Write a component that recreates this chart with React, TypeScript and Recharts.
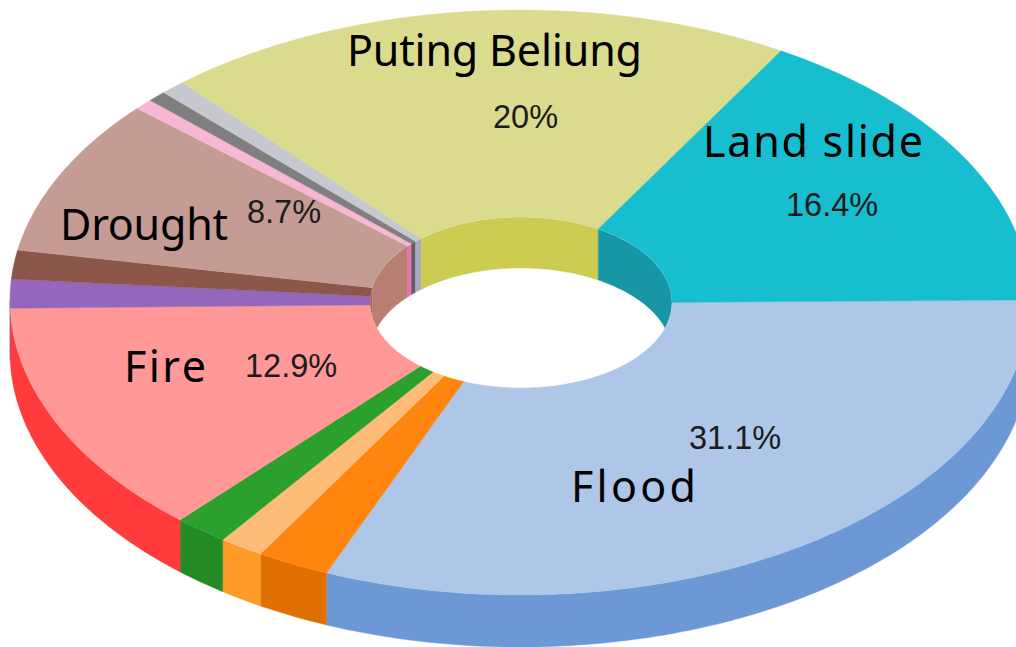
import { PieChart, Pie } from 'recharts';

// slices, clockwise from 3 o'clock
const names = ['Flood', 'Other 1', 'Other 2', 'Other 3', 'Fire', 'Other 4', 'Other 5', 'Drought', 'Other 6', 'Other 7', 'Other 8', 'Puting Beliung', 'Land slide'];
const values = [31.1, 2.3, 1.4, 1.7, 12.9, 1.6, 1.6, 8.7, 0.6, 0.6, 0.8, 20, 16.4];
const topColors = ['#AEC7E8', '#FF860E', '#FFBB78', '#2CA02C', '#FF9896', '#9467BD', '#8C564B', '#C49C94', '#F7B6D2', '#7F7F7F', '#C7C7CF', '#DBDB8D', '#17BECF'];
const wallColors = ['#6C98D6', '#DF7000', '#FF9A26', '#248A24', '#FF3B3B', '#7A4FA6', '#A56A5E', '#B97F72', '#F06FB0', '#5F5F5F', '#A9A9C0', '#CCCB52', '#1796A6'];

// text placed on the big slices
const bigLabels: Record<string, { x: number; y: number; w: number }> = {
  'Flood': { x: 571, y: 502, w: 125 },
  'Fire': { x: 124, y: 382, w: 82 },
  'Drought': { x: 60, y: 240, w: 168 },
  'Puting Beliung': { x: 347, y: 66, w: 295 },
  'Land slide': { x: 703, y: 157, w: 220 },
};
const pctLabels: Record<string, { x: number; y: number; text: string }> = {
  'Flood': { x: 689, y: 449, text: '31.1%' },
  'Fire': { x: 245, y: 377, text: '12.9%' },
  'Drought': { x: 247, y: 223, text: '8.7%' },
  'Puting Beliung': { x: 493, y: 128, text: '20%' },
  'Land slide': { x: 786, y: 216, text: '16.4%' },
};

const W = 1016, H = 647;
const DEPTH = 52;
const OUTER = { cx: 520, cy: 300, rx: 510, ryT: 290, ryB: 295 };
const HOLE = { cx: 521, cy: 302.5, rx: 151, ryT: 85.5, ryB: 85.5 };
const bigFont = "'Noto Sans', sans-serif";
const pctFont = "'Liberation Sans', Arial, sans-serif";

type Ell = typeof OUTER;

function pt(e: Ell, t: number, off = 0) {
  const r = (t * Math.PI) / 180;
  const s = Math.sin(r);
  return `${(e.cx + e.rx * Math.cos(r)).toFixed(2)} ${(e.cy + (s >= 0 ? e.ryB : e.ryT) * s + off).toFixed(2)}`;
}

function arc(e: Ell, a: number, b: number, off = 0) {
  const n = Math.max(2, Math.ceil(Math.abs(b - a)));
  const out: string[] = [];
  for (let i = 0; i <= n; i++) out.push(pt(e, a + ((b - a) * i) / n, off));
  return out;
}

const toPath = (pts: string[]) => 'M' + pts.join('L') + 'Z';

// recharts hands angles counter-clockwise, the ellipse helpers go clockwise
function TopSlice(p: any) {
  const a = -p.startAngle, b = -p.endAngle;
  const d = toPath([...arc(OUTER, a, b), ...arc(HOLE, b, a)]);
  return <path d={d} fill={topColors[p.index]} stroke={topColors[p.index]} strokeWidth={0.4} />;
}

function WallSlice(p: any) {
  const a = -p.startAngle, b = -p.endAngle;
  const fill = wallColors[p.index];
  const o1 = Math.max(a, 0), o2 = Math.min(b, 180);
  const i1 = Math.max(a, 180), i2 = Math.min(b, 360);
  const clipId = `hole-${p.index}`;
  return (
    <g>
      <defs>
        <clipPath id={clipId}>
          <ellipse cx={HOLE.cx} cy={HOLE.cy} rx={HOLE.rx} ry={HOLE.ryT} />
        </clipPath>
      </defs>
      {o2 > o1 && (
        <path d={toPath([...arc(OUTER, o1, o2), ...arc(OUTER, o2, o1, DEPTH)])} fill={fill} stroke={fill} strokeWidth={0.4} />
      )}
      {i2 > i1 && (
        <path d={toPath([...arc(HOLE, i1, i2), ...arc(HOLE, i2, i1, DEPTH - 1)])} fill={fill} stroke={fill} strokeWidth={0.4} clipPath={`url(#${clipId})`} />
      )}
    </g>
  );
}

function SliceLabel(p: any) {
  const name = names[p.index];
  const big = bigLabels[name];
  const pct = pctLabels[name];
  if (!big) return <g />;
  return (
    <g>
      <text x={big.x} y={big.y} textLength={big.w} lengthAdjust="spacing" fontFamily={bigFont} fontSize={43} fill="#000">{name}</text>
      <text x={pct.x} y={pct.y} fontFamily={pctFont} fontSize={32.5} fill="#1c1c1c">{pct.text}</text>
    </g>
  );
}

const data = names.map((name, i) => ({ name, value: values[i] }));

export default function App() {
  return (
    <div style={{ position: 'absolute', left: 0, top: 0, width: W, height: H, background: '#fff', overflow: 'hidden' }}>
      <PieChart width={W} height={H} margin={{ top: 0, right: 0, bottom: 0, left: 0 }}>
        <Pie data={data} dataKey="value" nameKey="name" cx={OUTER.cx} cy={OUTER.cy} innerRadius={HOLE.rx} outerRadius={OUTER.rx}
          startAngle={0} endAngle={-360} stroke="none" shape={WallSlice} isAnimationActive={false} />
        <Pie data={data} dataKey="value" nameKey="name" cx={OUTER.cx} cy={OUTER.cy} innerRadius={HOLE.rx} outerRadius={OUTER.rx}
          startAngle={0} endAngle={-360} stroke="none" shape={TopSlice} label={SliceLabel} labelLine={false} isAnimationActive={false} />
      </PieChart>
    </div>
  );
}
